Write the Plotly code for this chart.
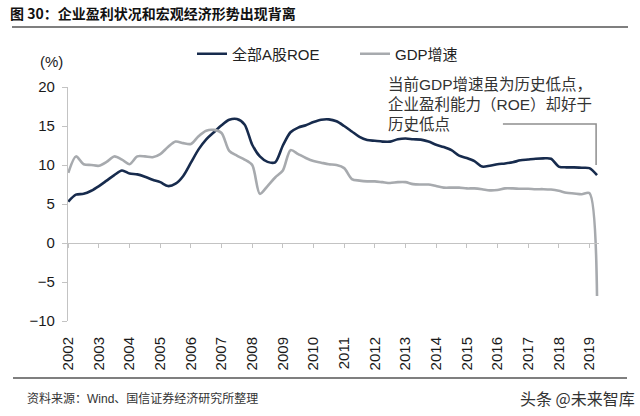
import plotly.graph_objects as go

# ---------------- data ----------------
years = list(range(2002, 2020))
year_labels = [str(y) for y in years]
quarter_labels = [f"{y}Q{q}" for y in range(2002, 2019) for q in (1, 2, 3, 4)] + ["2019Q1", "2019Q2"]

roe = [
    5.3, 6.2, 6.3, 6.7,
    7.3, 8.0, 8.7, 9.3,
    8.9, 8.8, 8.5, 8.1,
    7.8, 7.3, 7.6, 8.6,
    10.3, 12.0, 13.3, 14.2,
    15.1, 15.8, 15.9, 15.2,
    12.6, 11.1, 10.4, 10.35,
    12.5, 14.2, 14.8, 15.1,
    15.5, 15.8, 15.85, 15.6,
    15.0, 14.3, 13.6, 13.2,
    13.1, 13.0, 13.0, 13.3,
    13.4, 13.3, 13.25, 13.0,
    12.6, 12.3, 11.9, 11.2,
    10.9, 10.5, 9.8, 9.9,
    10.1, 10.2, 10.35, 10.6,
    10.7, 10.8, 10.85, 10.8,
    9.8, 9.7, 9.7, 9.65,
    9.6, 8.7,
]
gdp = [
    9.0, 11.1, 10.1, 10.0,
    9.9, 10.4, 11.1, 10.7,
    10.1, 11.1, 11.1, 11.0,
    11.4, 12.3, 13.0, 12.8,
    12.7, 13.7, 14.4, 14.5,
    14.1, 11.8, 11.2, 10.7,
    10.0, 6.3, 7.3, 8.4,
    9.3, 11.9, 11.4, 10.9,
    10.5, 10.3, 10.1, 10.0,
    9.6, 8.2, 8.0, 7.9,
    7.9, 7.8, 7.7, 7.8,
    7.8, 7.55, 7.5, 7.5,
    7.3, 7.1, 7.1, 7.1,
    7.0, 7.0, 6.9, 6.75,
    6.8, 7.0, 7.0, 6.95,
    6.95, 6.9, 6.9, 6.85,
    6.7, 6.45, 6.35, 6.25,
    6.4, -6.8,
]
y_ticks = [-10, -5, 0, 5, 10, 15, 20]

# position of each quarter on a continuous year axis
xq = [int(s[:4]) + (int(s[-1]) - 1) / 4 for s in quarter_labels]

# ---------------- styling ----------------
W, H = 640, 416
ML, MR, MT, MB = 68, 41, 87, 95
PW, PH = W - ML - MR, H - MT - MB
FONT = "Arial, 'Liberation Sans', 'Noto Sans CJK SC', sans-serif"
CJK = "'Noto Sans CJK SC', Arial, sans-serif"
MIX = "Arial, 'Liberation Sans', 'Noto Sans CJK SC', sans-serif"
ROE_C = "#172b4d"
GDP_C = "#a7aaae"
AX_C = "#c3c3c3"


def px_x(p):
    return (p - ML) / PW


def px_y(p):
    return 1 - (p - MT) / PH


fig = go.Figure()
fig.add_trace(go.Scatter(x=xq, y=roe, name="全部A股ROE", mode="lines",
                         line=dict(color=ROE_C, width=2.6, shape="spline", smoothing=0.8),
                         xaxis="x2", hoverinfo="skip"))
fig.add_trace(go.Scatter(x=xq, y=gdp, name="GDP增速", mode="lines",
                         line=dict(color=GDP_C, width=2.6, shape="spline", smoothing=0.8),
                         xaxis="x2", hoverinfo="skip"))
# invisible trace so the bottom label axis is drawn
fig.add_trace(go.Scatter(x=[years[0]], y=[0], mode="markers", marker=dict(opacity=0),
                         showlegend=False, hoverinfo="skip", xaxis="x"))

xr = [2001.99, 2001.99 + PW / 30.65]

fig.update_layout(
    width=W, height=H,
    margin=dict(l=ML, r=MR, t=MT, b=MB),
    paper_bgcolor="white", plot_bgcolor="white",
    font=dict(family=FONT, size=15, color="#1a1a1a"),
    showlegend=True,
    legend=dict(orientation="h", x=px_x(192), y=px_y(54), xanchor="left", yanchor="middle",
                font=dict(family=MIX, size=15, color="#222"),
                entrywidth=118, entrywidthmode="pixels", bgcolor="rgba(0,0,0,0)",
                itemwidth=30, tracegroupgap=0),
    xaxis=dict(range=xr, tickvals=years, ticktext=year_labels, tickangle=-90,
               showline=False, showgrid=False, zeroline=False,
               ticks="outside", ticklen=9, tickcolor="rgba(0,0,0,0)",
               tickfont=dict(family=FONT, size=15, color="#1a1a1a")),
    xaxis2=dict(range=xr, overlaying="x", anchor="free", position=1 / 3, matches="x",
                tickvals=years, showticklabels=False, showgrid=False, zeroline=False,
                showline=True, linecolor=AX_C, linewidth=1.3,
                ticks="outside", ticklen=4, tickcolor=AX_C, tickwidth=1),
    yaxis=dict(range=[-10, 20], tickvals=y_ticks, showgrid=False, zeroline=False,
               showline=True, linecolor=AX_C, linewidth=1.3,
               ticks="outside", ticklen=5, tickcolor=AX_C, ticklabelstandoff=4,
               tickfont=dict(family=FONT, size=15, color="#1a1a1a")),
)

# annotation bracket
fig.add_shape(type="path", xref="x2", yref="y",
              path="M 2016.18,15.26 L 2019.22,15.26 L 2019.22,10.0",
              line=dict(color="#8e8e8e", width=1.5))

# rules
fig.add_shape(type="line", xref="paper", yref="paper", x0=px_x(12), x1=px_x(628),
              y0=px_y(27), y1=px_y(27), line=dict(color="#555", width=1.5))
fig.add_shape(type="line", xref="paper", yref="paper", x0=px_x(13), x1=px_x(627),
              y0=px_y(378), y1=px_y(378), line=dict(color="#555", width=1.5))

# texts
fig.add_annotation(xref="paper", yref="paper", x=px_x(8), y=px_y(13), xanchor="left", yanchor="middle",
                   text="<b>图 30：企业盈利状况和宏观经济形势出现背离</b>", showarrow=False,
                   font=dict(family=CJK, size=14, color="#111"))
fig.add_annotation(xref="paper", yref="paper", x=px_x(51), y=px_y(62), xanchor="center", yanchor="middle",
                   text="(%)", showarrow=False, font=dict(family=FONT, size=15, color="#1a1a1a"))
fig.add_annotation(xref="paper", yref="paper", x=px_x(386), y=px_y(104), xanchor="left", yanchor="middle",
                   align="left", showarrow=False,
                   text="当前GDP增速虽为历史低点，<br>企业盈利能力（ROE）却好于<br>历史低点",
                   font=dict(family=MIX, size=15.5, color="#333"))
fig.add_annotation(xref="paper", yref="paper", x=px_x(25), y=px_y(398), xanchor="left", yanchor="middle",
                   text="资料来源：Wind、国信证券经济研究所整理", showarrow=False,
                   font=dict(family=MIX, size=12, color="#333"))
fig.add_annotation(xref="paper", yref="paper", x=px_x(637), y=px_y(398), xanchor="right", yanchor="middle",
                   text="头条 @未来智库", showarrow=False,
                   font=dict(family=CJK, size=16, color="#333"))

fig.write_html("out.html")
